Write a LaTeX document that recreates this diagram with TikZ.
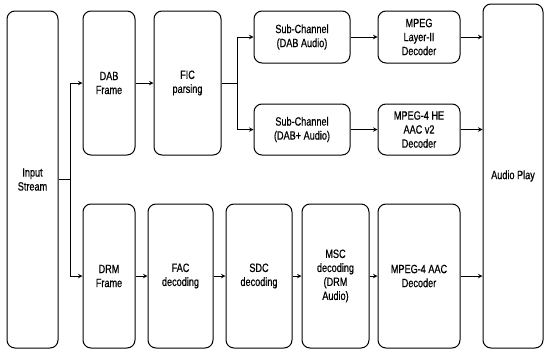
\documentclass[tikz,border=0pt]{standalone}
\usepackage{fontspec}
\setmainfont{Liberation Sans}[FakeStretch=0.76, FakeBold=0.6]
\usetikzlibrary{calc}

\begin{document}
\begin{tikzpicture}[x=1pt,y=-1pt,>=stealth]
       \tikzstyle{block} = [rectangle, draw=black, line width=1pt, rounded corners=8pt,
                            align=center, inner sep=0pt, font=\fontsize{12}{14}\selectfont];
       \tikzstyle{link} = [->, line width=1pt];
       \useasboundingbox (0,0) rectangle (546,351);

       % blocks
       \node[block, minimum width=51pt, minimum height=337pt] (input) at (32.5,179.5) {Input\\Stream};
       \node[block, minimum width=52pt, minimum height=144pt] (dabframe) at (109,83) {DAB\\Frame};
       \node[block, minimum width=67pt, minimum height=144pt] (fic) at (187.5,83) {FIC\\parsing};
       \node[block, minimum width=96pt, minimum height=52pt] (subdab) at (302,37) {Sub-Channel\\(DAB Audio)};
       \node[block, minimum width=96pt, minimum height=51pt] (subdabp) at (302,129.5) {Sub-Channel\\(DAB+ Audio)};
       \node[block, minimum width=82pt, minimum height=52pt] (mp2) at (419,37) {MPEG\\Layer-II\\Decoder};
       \node[block, minimum width=82pt, minimum height=51pt] (heaac) at (419,129.5) {MPEG-4 HE\\AAC v2\\Decoder};
       \node[block, minimum width=60pt, minimum height=344pt] (play) at (513,176) {Audio Play};

       \node[block, minimum width=52pt, minimum height=144pt] (drmframe) at (109,276) {DRM\\Frame};
       \node[block, minimum width=65pt, minimum height=144pt] (fac) at (180.5,276) {FAC\\decoding};
       \node[block, minimum width=66pt, minimum height=144pt] (sdc) at (259,276) {SDC\\decoding};
       \node[block, minimum width=67pt, minimum height=144pt] (msc) at (335.5,276) {MSC\\decoding\\(DRM\\Audio)};
       \node[block, minimum width=82pt, minimum height=144pt] (aac) at (419,276) {MPEG-4 AAC\\Decoder};

       % split points
       \coordinate (split1) at ($(input.east)+(12,0)$);
       \coordinate (split2) at ($(fic.east)+(16,0)$);

       % DAB path
       \draw[link] (input.east) -- (split1) |- (dabframe.west);
       \draw[link] (dabframe.east) -- (fic.west);
       \draw[link] (fic.east) -- (split2) |- (subdab.west);
       \draw[link] (split2) |- (subdabp.west);
       \draw[link] (subdab.east) -- (mp2.west);
       \draw[link] (subdabp.east) -- (heaac.west);
       \draw[link] (mp2.east) -- (mp2.east -| play.west);
       \draw[link] (heaac.east) -- (heaac.east -| play.west);

       % DRM path
       \draw[link] (split1) |- (drmframe.west);
       \draw[link] (drmframe.east) -- (fac.west);
       \draw[link] (fac.east) -- (sdc.west);
       \draw[link] (sdc.east) -- (msc.west);
       \draw[link] (msc.east) -- (aac.west);
       \draw[link] (aac.east) -- (aac.east -| play.west);
     \end{tikzpicture}
\end{document}
